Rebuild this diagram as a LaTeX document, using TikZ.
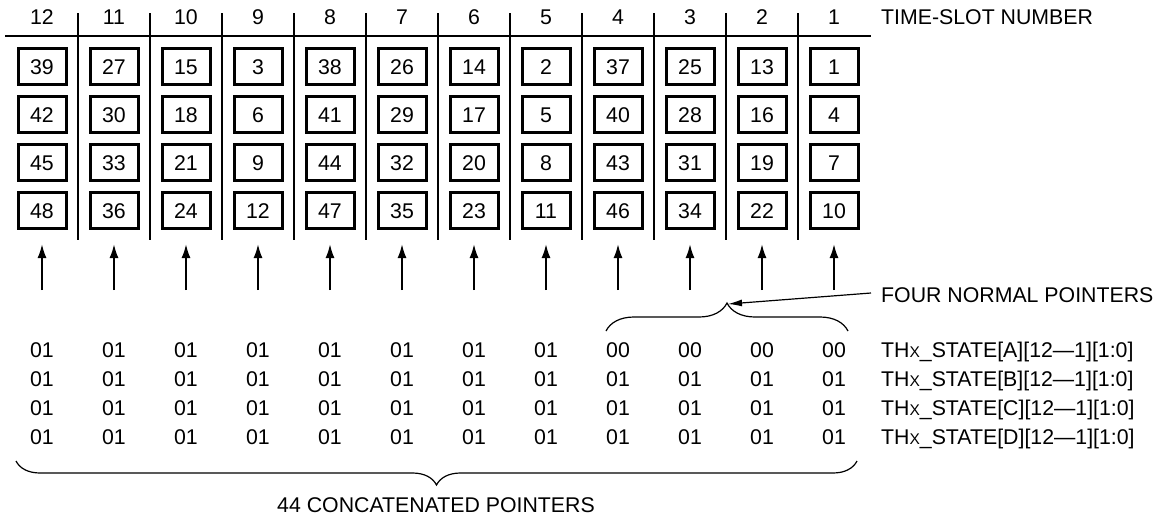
\documentclass[tikz,border=0pt]{standalone}
\usepackage{fontspec}
\setmainfont{Liberation Sans}
\usetikzlibrary{arrows.meta,decorations.pathreplacing}
\newcommand{\smx}{{\fontsize{15.5}{18}\selectfont X}}
\begin{document}
\begin{tikzpicture}[x=1pt,y=-1pt,
  every node/.style={font=\fontsize{21.3}{25}\selectfont, inner sep=0pt, text height=15.2pt, text depth=0pt},
  cell/.style={draw, line width=3pt, minimum width=48pt, minimum height=36pt},
  sepline/.style={line width=1.3pt},
  uparrow/.style={line width=2pt, -{Latex[length=14pt,width=9pt]}},
  lab/.style={anchor=west},
  bracepath/.style={decorate, line width=1.2pt}]
\useasboundingbox (0,0) rectangle (1157,520);
% header line and separators
\coordinate (hl0) at (5,36);
\coordinate (hl1) at (871,36);
\draw[sepline] (hl0) -- (hl1);
\foreach \k in {0,...,10} {
  \coordinate (st\k) at (78+72*\k,13);
  \coordinate (sb\k) at (78+72*\k,240);
  \draw[sepline] (st\k) -- (sb\k);
}
% columns
\foreach \colnum/\va/\vb/\vc/\vd/\sa [count=\i from 0] in
 {12/39/42/45/48/01, 11/27/30/33/36/01, 10/15/18/21/24/01, 9/3/6/9/12/01,
  8/38/41/44/47/01, 7/26/29/32/35/01, 6/14/17/20/23/01, 5/2/5/8/11/01,
  4/37/40/43/46/00, 3/25/28/31/34/00, 2/13/16/19/22/00, 1/1/4/7/10/00} {
  \node (h\colnum) at (42+72*\i,17) {\colnum};
  \node[cell] (b\colnum-1) at (42+72*\i,66.5) {\va};
  \node[cell] (b\colnum-2) at (42+72*\i,114.5) {\vb};
  \node[cell] (b\colnum-3) at (42+72*\i,162.5) {\vc};
  \node[cell] (b\colnum-4) at (42+72*\i,210.5) {\vd};
  \coordinate (af\colnum) at (42+72*\i,290);
  \coordinate (at\colnum) at (42+72*\i,244);
  \draw[uparrow] (af\colnum) -- (at\colnum);
  \node (va\colnum) at (42+72*\i,350) {\sa};
  \node (vb\colnum) at (42+72*\i,379) {01};
  \node (vc\colnum) at (42+72*\i,408) {01};
  \node (vd\colnum) at (42+72*\i,437) {01};
}
% right labels
\node[lab] (tsn) at (881,17) {TIME-SLOT NUMBER};
\node[lab] (fnp) at (881,295) {FOUR NORMAL POINTERS};
\node[lab] (sa) at (881,350) {TH\smx\_STATE[A][12—1][1:0]};
\node[lab] (sb) at (881,379) {TH\smx\_STATE[B][12—1][1:0]};
\node[lab] (sc) at (881,408) {TH\smx\_STATE[C][12—1][1:0]};
\node[lab] (sd) at (881,437) {TH\smx\_STATE[D][12—1][1:0]};
% small brace
\coordinate (sbl) at (606,331);
\coordinate (sbr) at (848,331);
\draw[bracepath, decoration={brace, amplitude=28pt}] (sbl) -- (sbr);
\coordinate (fp) at (728,304);
\draw[line width=1.2pt, -{Latex[length=14pt,width=7pt]}] ([xshift=-10pt,yshift=2pt]fnp.west) -- (fp);
% big brace
\coordinate (bbl) at (16,461);
\coordinate (bbr) at (857,461);
\draw[bracepath, decoration={brace, amplitude=24pt}] (bbr) -- (bbl);
\node (cp) at (436,505) {44 CONCATENATED POINTERS};
\end{tikzpicture}
\end{document}
